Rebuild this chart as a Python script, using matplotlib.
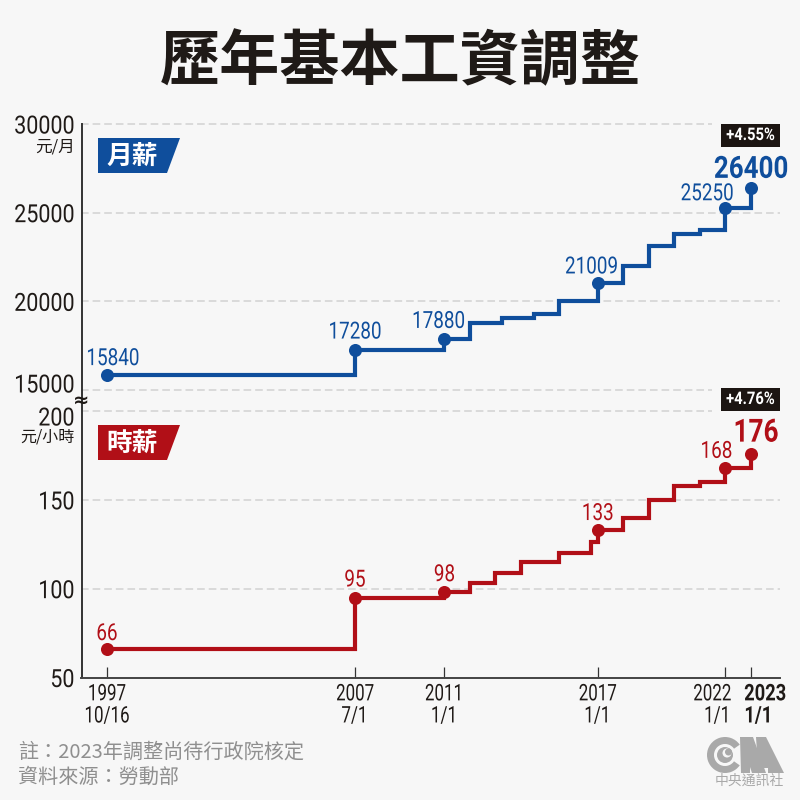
import matplotlib
matplotlib.use("Agg")
import matplotlib.pyplot as plt
from matplotlib.patches import Polygon, Rectangle, Circle, Wedge
from matplotlib.patheffects import AbstractPathEffect
from matplotlib.transforms import Affine2D

BG = '#f7f7f7'
BLUE = '#0f4e9c'
RED = '#b10f17'
INK = '#1f1a17'
GRID = '#d2d2d2'
GREY = '#8f8f8f'
LOGO = '#a9a9a9'

monthly_x = [1997.79, 2007.5, 2011.0, 2012.0, 2013.25, 2014.5, 2015.5, 2017.0, 2018.0, 2019.0, 2020.0, 2021.0, 2022.0, 2023.0]
monthly_y = [15840, 17280, 17880, 18780, 19047, 19273, 20008, 21009, 22000, 23100, 23800, 24000, 25250, 26400]
hourly_x = [1997.79, 2007.5, 2011.0, 2012.0, 2013.0, 2014.0, 2015.5, 2016.75, 2017.0, 2018.0, 2019.0, 2020.0, 2021.0, 2022.0, 2023.0]
hourly_y = [66, 95, 98, 103, 109, 115, 120, 126, 133, 140, 150, 158, 160, 168, 176]
marked_x = [1997.79, 2007.5, 2011.0, 2017.0, 2022.0, 2023.0]
monthly_marked_y = [15840, 17280, 17880, 21009, 25250, 26400]
hourly_marked_y = [66, 95, 98, 133, 168, 176]
monthly_ticks = [15000, 20000, 25000, 30000]
hourly_ticks = [50, 100, 150, 200]
x_labels = ['1997\n10/16', '2007\n7/1', '2011\n1/1', '2017\n1/1', '2022\n1/1', '2023\n1/1']

NUM = 'Roboto'
CJK = 'Noto Sans CJK TC'
plt.rcParams['font.family'] = [NUM, CJK, 'DejaVu Sans']


class Condense(AbstractPathEffect):
    """Narrow a real text horizontally, keeping it anchored (0 left, .5 centre, 1 right)."""
    def __init__(self, sx, anchor=0.5):
        super().__init__()
        self.sx, self.anchor = sx, anchor

    def draw_path(self, renderer, gc, tpath, affine, rgbFace=None):
        e = tpath.get_extents()
        pivot = e.x0 + (e.x1 - e.x0) * self.anchor
        t = Affine2D().translate(-pivot, 0).scale(self.sx, 1).translate(pivot, 0)
        renderer.draw_path(gc, tpath, t + affine, rgbFace)


W = H = 800
fig = plt.figure(figsize=(8, 8), dpi=100, facecolor=BG)
def fx(p): return p / W
def fy(p): return 1 - p / H
def shift(artist, dx, dy):
    artist.set_transform(artist.get_transform() + Affine2D().translate(dx, dy))

L, R = 81.5, 780
TOP_T, BRK, BOT_B = 124, 401, 677.5
PX_YEAR = 25.55
x0 = 2023.0 - (751 - L) / PX_YEAR
x1 = 2023.0 + (R - 751) / PX_YEAR
ppu_top = (390 - 124) / 15000
ppu_bot = (677.5 - 411) / 150

ax1 = fig.add_axes([fx(L), fy(BRK), (R - L) / W, (BRK - TOP_T) / H], facecolor='none')
ax2 = fig.add_axes([fx(L), fy(BOT_B), (R - L) / W, (BOT_B - BRK) / H], facecolor='none')
ax1.set_xlim(x0, x1); ax2.set_xlim(x0, x1)
ax1.set_ylim(15000 - (BRK - 390) / ppu_top, 30000)
ax2.set_ylim(50, 200 + (411 - BRK) / ppu_bot)

xs_short = x0 + (712 - L) / PX_YEAR
for ax, ticks, short in ((ax1, monthly_ticks, (15000, 30000)), (ax2, hourly_ticks, (200,))):
    for s in ('top', 'right'):
        ax.spines[s].set_visible(False)
    ax.spines['left'].set_linewidth(1.4); ax.spines['left'].set_color('#333333')
    for t in ticks:
        if t == 50:
            continue
        ax.plot([x0, xs_short if t in short else x1], [t, t], color=GRID, lw=1.1,
                dashes=(5, 2.6), zorder=1, clip_on=False)
    ax.set_yticks(ticks)
    ax.set_yticklabels([str(t) for t in ticks])
    ax.tick_params(axis='y', length=0, pad=5, labelsize=18, labelcolor=INK)
    for lab in ax.get_yticklabels():
        lab.set_path_effects([Condense(0.86, 1.0)])
ax1.spines['bottom'].set_visible(False)
ax1.set_xticks([])
shift(ax1.get_yticklabels()[0], 0, 7)    # 15000 sits above its line
shift(ax2.get_yticklabels()[-1], 0, -5)  # 200 sits below its line

ax2.spines['bottom'].set_linewidth(1.4); ax2.spines['bottom'].set_color('#444444')
ax2.set_xticks(marked_x)
ax2.set_xticklabels(x_labels, fontsize=16.5, color=INK, linespacing=0.95)
ax2.tick_params(axis='x', direction='in', length=8, width=0.9, color='#333333', pad=3.5)
xlabs = ax2.get_xticklabels()
for lab in xlabs:
    lab.set_path_effects([Condense(0.74, 0.5)])
# the last two labels fan out from their ticks
xlabs[-2].set_ha('right'); xlabs[-2].set_multialignment('right')
xlabs[-2].set_path_effects([Condense(0.74, 1.0)])
shift(xlabs[-2], 6, 0)
xlabs[-1].set_ha('left'); xlabs[-1].set_multialignment('left')
xlabs[-1].set_fontweight('bold')
xlabs[-1].set_path_effects([Condense(0.8, 0.0)])
shift(xlabs[-1], -7, 0)

for ax, xs, ys, my, c in ((ax1, monthly_x, monthly_y, monthly_marked_y, BLUE),
                          (ax2, hourly_x, hourly_y, hourly_marked_y, RED)):
    ax.step(xs, ys, where='post', color=c, lw=3.0, zorder=3,
            solid_joinstyle='miter', solid_capstyle='butt')
    ax.plot(marked_x, my, 'o', color=c, ms=9.4, zorder=4, mec='none')

offs1 = [(6, 10), (0, 11), (-6, 11), (-6, 10), (-18, 8)]
offs2 = [(0, 9), (0, 11), (0, 11), (0, 10)]
for ax, ys, offs, c in ((ax1, monthly_marked_y, offs1, BLUE), (ax2, hourly_marked_y, offs2, RED)):
    for x, y, d in zip(marked_x, ys, offs):
        ax.annotate(str(y), (x, y), xytext=d, textcoords='offset pixels', ha='center', va='baseline',
                    color=c, fontsize=17, path_effects=[Condense(0.8, 0.5)])
ax1.annotate(str(monthly_marked_y[-1]), (marked_x[-1], monthly_marked_y[-1]), xytext=(0, 10),
             textcoords='offset pixels', ha='center', va='baseline', color=BLUE, fontsize=22,
             fontweight='bold', path_effects=[Condense(0.85, 0.5)])
ax2.annotate(str(hourly_marked_y[-2]), (marked_x[-2], hourly_marked_y[-2]), xytext=(7, 10),
             textcoords='offset pixels', ha='right', va='baseline', color=RED, fontsize=17,
             path_effects=[Condense(0.8, 1.0)])
ax2.annotate(str(hourly_marked_y[-1]), (marked_x[-1], hourly_marked_y[-1]), xytext=(-18, 12),
             textcoords='offset pixels', ha='left', va='baseline', color=RED, fontsize=23,
             fontweight='bold', path_effects=[Condense(0.82, 0.0)])

# title, units, footers
fig.text(fx(400), fy(63), '歷年基本工資調整', ha='center', va='center', family=CJK,
         fontsize=43.3, fontweight='black', color=INK)
fig.text(fx(75), fy(147), '元/月', ha='right', va='center', family=CJK, fontsize=12, color=INK)
fig.text(fx(75), fy(437), '元/小時', ha='right', va='center', family=CJK, fontsize=11.5, color=INK)
fig.text(fx(81.5), fy(400.5), '≈', ha='center', va='center', family='DejaVu Sans', fontsize=14,
         color=INK, fontweight='bold')
fig.text(fx(18), fy(752), '註：2023年調整尚待行政院核定', ha='left', va='center', family=CJK,
         fontsize=14.5, color=GREY)
fig.text(fx(18), fy(777), '資料來源：勞動部', ha='left', va='center', family=CJK,
         fontsize=14.5, color=GREY)

def px(points):
    return [(fx(a), fy(b)) for a, b in points]

# series tags
for top, c, label in ((138, BLUE, '月薪'), (425, RED, '時薪')):
    fig.add_artist(Polygon(px([(98, top), (180, top), (167, top + 35), (98, top + 35)]),
                           closed=True, fc=c, ec='none', transform=fig.transFigure))
    fig.text(fx(132.5), fy(top + 18), label, ha='center', va='center', family=CJK,
             fontsize=18.5, fontweight='bold', color='white')

# change badges
for top, label in ((124, '+4.55%'), (388, '+4.76%')):
    fig.add_artist(Rectangle((fx(721), fy(top + 23)), 59 / W, 23 / H, fc='#1c1512', ec='none',
                             transform=fig.transFigure))
    fig.text(fx(750.5), fy(top + 11.5), label, ha='center', va='center', fontsize=12.5,
             fontweight='bold', color='white', path_effects=[Condense(0.85, 0.5)])

# agency mark
def logo_poly(points, color=LOGO):
    fig.add_artist(Polygon(px(points), closed=True, fc=color, ec='none', transform=fig.transFigure))

fig.add_artist(Wedge((fx(725), fy(755)), 18 / W, 35, 325, width=7 / W, fc=LOGO, ec='none',
                     transform=fig.transFigure))
fig.add_artist(Circle((fx(725), fy(755)), 8 / W, fc=LOGO, ec='none', transform=fig.transFigure))
fig.add_artist(Circle((fx(727), fy(753)), 4.5 / W, fc=BG, ec='none', transform=fig.transFigure))
fig.add_artist(Circle((fx(728.5), fy(752)), 3.5 / W, fc=LOGO, ec='none', transform=fig.transFigure))
logo_poly([(740, 737), (753, 737), (766, 773), (752, 773), (750, 767), (750, 773), (741, 773)])
logo_poly([(756, 737), (766, 737), (784, 773), (768, 773), (768, 768), (763, 768), (757, 752)])
fig.text(fx(749), fy(781), '中央通訊社', ha='center', va='center', family=CJK, fontsize=10, color=LOGO)

fig.savefig('out.png', dpi=100, facecolor=BG)
